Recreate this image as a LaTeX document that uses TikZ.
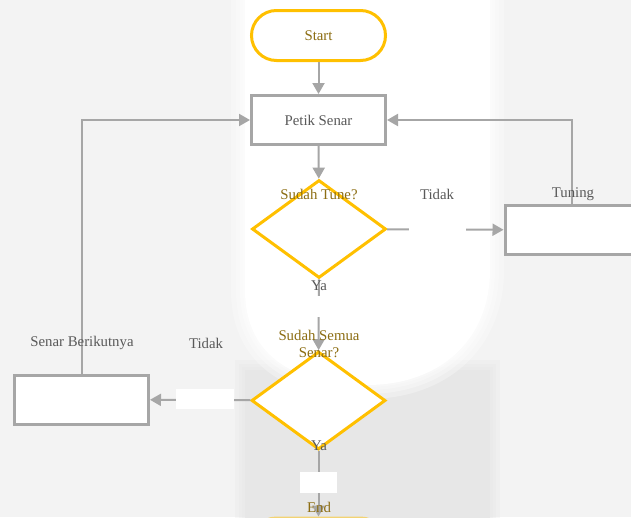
\documentclass[tikz,border=0pt]{standalone}
\usepackage{fontspec}
\setmainfont{Liberation Serif}
\usetikzlibrary{shapes.geometric,arrows.meta}
\definecolor{gold}{HTML}{FFC000}
\definecolor{goldtxt}{HTML}{8C6D12}
\definecolor{grayline}{HTML}{A6A6A6}
\definecolor{graytxt}{HTML}{595959}
\definecolor{bg}{HTML}{F3F3F3}
\definecolor{bgdark}{HTML}{E7E7E7}
\begin{document}
\begin{tikzpicture}[x=1pt,y=-1pt,
  font=\fontsize{14.8pt}{17pt}\selectfont,
  term/.style={draw=gold,line width=3pt,fill=white,rounded corners=25pt,minimum width=134pt,minimum height=50pt,inner sep=0pt,text=goldtxt},
  proc/.style={draw=grayline,line width=3pt,fill=white,minimum width=134pt,minimum height=49pt,inner sep=0pt,text=graytxt},
  dec/.style={draw=gold,line width=3pt,fill=white,diamond,aspect=1.36,minimum width=134pt,minimum height=98pt,inner sep=0pt},
  conn/.style={draw=grayline,line width=2pt,-{Triangle[length=11pt,width=12pt]}},
  gap/.style={fill=white,inner sep=0pt},
  lbl/.style={text=graytxt,inner sep=0pt},
  qlbl/.style={text=goldtxt,inner sep=0pt,align=center}]
\useasboundingbox (0,0) rectangle (631,517);
\clip (0,0) rectangle (631,517);
% background (soft-edged)
\fill[bg] (0,0) rectangle (631,517);
\foreach \w in {20,12,6}{
  \draw[bgdark,opacity=0.3,line width=\w pt] (245,370) rectangle (490,530);}
\fill[bgdark] (245,370) rectangle (490,530);
\def\blob{(245,-10) -- (245,290) .. controls (245,360) and (300,385) .. (367,385) .. controls (440,385) and (490,340) .. (490,270) -- (490,-10) -- cycle}
\foreach \w in {28,18,10,4}{
  \draw[white,opacity=0.3,line width=\w pt] \blob;}
\fill[white] \blob;
% nodes
\node[term] (start) at (318.5,35.5) {Start};
\node[proc] (petik) at (318.5,120) {Petik Senar};
\node[dec] (d1) at (319,229) {};
\node[proc] (tuning) at (572,230) {};
\node[dec] (d2) at (318.5,400.5) {};
\node[proc] (next) at (81.5,399.5) {};
\node[term,draw opacity=0.5] (end) at (318.5,543) {};
% connectors
\draw[conn] (start) -- (petik);
\draw[conn] (petik) -- (d1);
\draw[conn] (d1) -- (tuning);
\node[gap,minimum width=57pt,minimum height=20pt] (gap1) at (437,229) {};
\draw[conn] (tuning.north) |- (petik.east);
\draw[conn] (d1) -- (d2);
\node[gap,minimum width=37pt,minimum height=21pt] (gap2) at (319,306.5) {};
\draw[conn] (d2) -- (next);
\node[gap,minimum width=58pt,minimum height=20pt] (gap3) at (205,399) {};
\draw[conn] (next.north) |- (petik.west);
\draw[conn] (d2) -- (end);
\node[gap,minimum width=37pt,minimum height=21pt] (gap4) at (318.5,482.5) {};
% labels
\node[qlbl] (q1) at (319,194) {Sudah Tune?};
\node[lbl] (t1) at (437,194) {Tidak};
\node[lbl] (tun) at (573,194) {Tuning};
\node[lbl] (ya1) at (319,286) {Ya};
\node[lbl] (sb) at (82,343) {Senar Berikutnya};
\node[lbl] (t2) at (206,343) {Tidak};
\node[qlbl] (q2) at (319,344) {Sudah Semua\\Senar?};
\node[lbl] (ya2) at (319,446) {Ya};
\node[qlbl] (endl) at (319,507) {End};
\end{tikzpicture}
\end{document}
